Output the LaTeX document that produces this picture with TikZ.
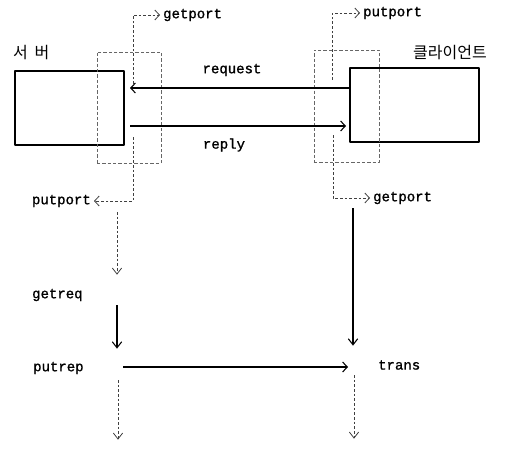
\documentclass[tikz,border=0pt]{standalone}
\usepackage{fontspec}
\newfontfamily\lblfont[FakeBold=1.2]{Liberation Mono}
\newfontfamily\krfont{Noto Sans CJK KR}
\usetikzlibrary{arrows.meta}
\begin{document}
\begin{tikzpicture}[
				x=0.75pt,y=-0.75pt,line join = round,>={Straight Barb[length=3.5pt,width=7.5pt]},
				line width=0.8pt,inner sep = 2pt,font=\lblfont\fontsize{10.5}{12}\selectfont,
				hop/.style={rectangle,draw = black, line width=0.9pt},
				congchu/.style={rectangle,draw = black!60, line width=0.6pt, dash pattern=on 2.5pt off 1.5pt},
				cham/.style={draw = black!75, line width=0.6pt, dash pattern=on 2pt off 1.5pt},
				xuong/.style={-{Straight Barb[length=4.5pt,width=7pt,sep=4pt]}},
				nhan/.style={anchor=west},
				hanguk/.style={anchor=west,font=\krfont\fontsize{12}{14}\selectfont}]
				\useasboundingbox (0,0) rectangle (509,449);
				% boxes
				\node at (69.5,108) (nodeS) [hop, minimum width=81.8pt, minimum height=55.5pt] {};
				\node at (414.5,105) (nodeC) [hop, minimum width=96.8pt, minimum height=55.5pt] {};
				\node at (129,107.5) (nodeSp) [congchu, minimum width=48pt, minimum height=83.3pt] {};
				\node at (346.5,106) (nodeCp) [congchu, minimum width=48.8pt, minimum height=84pt] {};
				\node at (10,53) (nodeSl) [hanguk] {서\hspace{5pt}버};
				\node at (410,53) (nodeCl) [hanguk] {클라이언트};
				% labels
				\node at (232,70) (nodeReq) {request};
				\node at (224,145) (nodeRep) {reply};
				\node at (160,15) (nodeSg) [nhan] {getport};
				\node at (94,201) (nodeSu) [anchor=east] {putport};
				\node at (360,13) (nodeCu) [nhan] {putport};
				\node at (370,198) (nodeCg) [nhan] {getport};
				\node at (29,295) (nodeGr) [nhan] {getreq};
				\node at (30,368) (nodePr) [nhan] {putrep};
				\node at (375,365) (nodeTr) [nhan] {trans};
				% points
				\coordinate (reqT) at (130,88);
				\coordinate (repS) at (130,126);
				\coordinate (repT) at (346,126);
				\coordinate (sgA) at (133,84);
				\coordinate (suA) at (133,137);
				\coordinate (cuA) at (332,80);
				\coordinate (cgA) at (333,135);
				\coordinate (l0) at (117,212);
				\coordinate (l1) at (117,280);
				\coordinate (l2) at (117,305);
				\coordinate (l3) at (117,354);
				\coordinate (l4) at (118,380);
				\coordinate (l5) at (118,445);
				\coordinate (r0) at (353,208);
				\coordinate (r1) at (353,351);
				\coordinate (r2) at (354,375);
				\coordinate (r3) at (354,444);
				\coordinate (prS) at (123,367);
				\coordinate (trT) at (348,367);
				% connectors
				\draw[->] (nodeC.west |- reqT) -- (reqT);
				\draw[->] (repS) -- (repT);
				\draw[cham,->] (sgA) |- (nodeSg.west);
				\draw[cham,->] (suA) |- (nodeSu.east);
				\draw[cham,->] (cuA) |- (nodeCu.west);
				\draw[cham,->] (cgA) |- (nodeCg.west);
				\draw[cham,xuong] (l0) -- (l1);
				\draw[xuong] (l2) -- (l3);
				\draw[cham,xuong] (l4) -- (l5);
				\draw[xuong] (r0) -- (r1);
				\draw[cham,xuong] (r2) -- (r3);
				\draw[->] (prS) -- (trT);
			\end{tikzpicture}
\end{document}
